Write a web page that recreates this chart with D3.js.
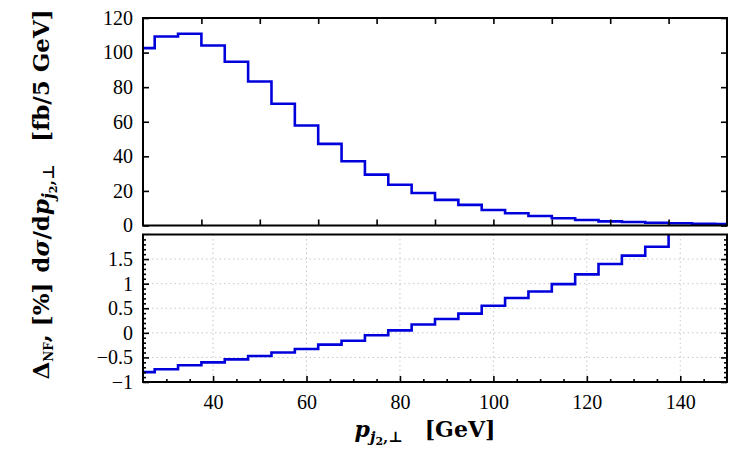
<!DOCTYPE html>
<html>
<head>
<meta charset="utf-8">
<script src="https://cdn.jsdelivr.net/npm/d3@7"></script>
<style>
  body { margin: 0; background: #fff; }
</style>
</head>
<body>
<div id="chart"></div>
<script>
// bin centres, 5 GeV wide
const binCenters = [25, 30, 35, 40, 45, 50, 55, 60, 65, 70, 75, 80, 85, 90, 95,
  100, 105, 110, 115, 120, 125, 130, 135, 140, 145, 150]
// dsigma/dp [fb/5 GeV]
const xsecValues = [102.6, 109.3, 110.9, 104.1, 94.7, 83.3, 70.4, 57.8, 47.2, 37.2, 29.4,
  23.6, 18.8, 14.8, 11.9, 9.0, 7.1, 5.5, 4.2, 3.2, 2.4, 2.0, 1.6, 1.3, 1.0, 0.9]
// Delta_NF [%]
const deltaValues = [-0.80, -0.74, -0.66, -0.60, -0.54, -0.47, -0.40, -0.33, -0.24, -0.16,
  -0.05, 0.05, 0.17, 0.28, 0.39, 0.55, 0.71, 0.84, 0.99, 1.19, 1.40, 1.57, 1.75, 2.1, 2.4, 2.6]
const xTickLabels = [40, 60, 80, 100, 120, 140]
const topTickLabels = [0, 20, 40, 60, 80, 100, 120]
const botTickLabels = [-1, -0.5, 0, 0.5, 1, 1.5]

const W = 750, H = 450
const left = 143, right = 727
const top1 = 18, bot1 = 225.5
const top2 = 234.5, bot2 = 382
const blue = '#0000dd'
const fontSize = 20
const serif = '"Times New Roman", serif'
const titleFont = 'DejaVu Serif'

const svg = d3.select('#chart').append('svg')
  .attr('width', W).attr('height', H)

const x = d3.scaleLinear().domain([25, 150]).range([left, right])
const yTop = d3.scaleLinear().domain([0, 120]).range([bot1, top1])
const yBot = d3.scaleLinear().domain([-1, 2]).range([bot2, top2])

const fmt = d => d < 0 ? '\u2212' + Math.abs(d) : String(d)

function clip (id, y0, y1) {
  svg.append('clipPath').attr('id', id)
    .append('rect').attr('x', left).attr('y', y0)
    .attr('width', right - left).attr('height', y1 - y0)
}
clip('c1', top1, bot1)
clip('c2', top2, bot2)

// grid in lower panel
let grid = svg.append('g').attr('stroke', '#c8c8c8').attr('stroke-width', 1)
  .attr('stroke-dasharray', '1.5,3')
grid.selectAll('line.v').data(xTickLabels).enter().append('line')
  .attr('x1', d => x(d)).attr('x2', d => x(d))
  .attr('y1', top2).attr('y2', bot2)
grid.selectAll('line.h').data(botTickLabels.filter(d => d > -1)).enter().append('line')
  .attr('x1', left).attr('x2', right)
  .attr('y1', d => yBot(d)).attr('y2', d => yBot(d))

// step histograms
function steps (vals, y, clipId) {
  let pts = binCenters.map((c, i) => [c - 2.5, vals[i]])
  pts.push([binCenters[binCenters.length - 1] + 2.5, vals[vals.length - 1]])
  let line = d3.line().x(d => x(d[0])).y(d => y(d[1])).curve(d3.curveStepAfter)
  svg.append('path').datum(pts)
    .attr('clip-path', `url(#${clipId})`)
    .attr('d', line)
    .attr('fill', 'none').attr('stroke', blue).attr('stroke-width', 2.6)
}
steps(xsecValues, yTop, 'c1')
steps(deltaValues, yBot, 'c2')

// tick marks (inward)
function ticks (axis, tr, vals, size) {
  let g = svg.append('g').attr('transform', tr)
    .call(axis.tickValues(vals).tickSize(-size).tickFormat(''))
  g.select('.domain').remove()
  g.selectAll('line').attr('stroke', '#000').attr('stroke-width', 1.6)
}
const topX = d3.range(37.5, 150, 12.5)
ticks(d3.axisBottom(x), `translate(0,${bot1})`, topX, 6)
ticks(d3.axisTop(x), `translate(0,${top1})`, topX, 6)
ticks(d3.axisLeft(yTop), `translate(${left},0)`, topTickLabels, 6)
ticks(d3.axisRight(yTop), `translate(${right},0)`, topTickLabels, 6)

const minorX = d3.range(30, 150, 5).filter(d => d % 20 !== 0)
const minorY = d3.range(-9, 20).map(d => d / 10).filter(d => Math.abs(d * 2 - Math.round(d * 2)) > 1e-6)
ticks(d3.axisBottom(x), `translate(0,${bot2})`, xTickLabels, 6)
ticks(d3.axisBottom(x), `translate(0,${bot2})`, minorX, 3)
ticks(d3.axisLeft(yBot), `translate(${left},0)`, botTickLabels, 6)
ticks(d3.axisLeft(yBot), `translate(${left},0)`, minorY, 3)
ticks(d3.axisRight(yBot), `translate(${right},0)`, botTickLabels, 6)
ticks(d3.axisRight(yBot), `translate(${right},0)`, minorY, 3)

// frames
;[[top1, bot1], [top2, bot2]].forEach(([a, b]) => {
  svg.append('rect').attr('x', left).attr('y', a)
    .attr('width', right - left).attr('height', b - a)
    .attr('fill', 'none').attr('stroke', '#000').attr('stroke-width', 2)
})

// tick labels
function labels (axis, tr, vals) {
  let g = svg.append('g').attr('transform', tr)
    .call(axis.tickValues(vals).tickSize(0).tickPadding(0).tickFormat(fmt))
  g.select('.domain').remove()
  g.attr('font-family', serif).attr('font-size', fontSize)
}
labels(d3.axisLeft(yTop), `translate(${left - 10},0)`, topTickLabels)
labels(d3.axisLeft(yBot), `translate(${left - 10},0)`, botTickLabels)
labels(d3.axisBottom(x), `translate(0,${bot2 + 13})`, xTickLabels)

// x title
let xt = svg.append('text').attr('x', 425).attr('y', 437).attr('font-family', titleFont)
  .attr('text-anchor', 'middle').attr('font-size', 22).attr('font-weight', 'bold')
xt.append('tspan').attr('font-style', 'italic').text('p')
xt.append('tspan').attr('font-size', 15).attr('dy', 5).attr('font-style', 'italic').text('j')
xt.append('tspan').attr('font-size', 11).attr('dy', 3).text('2')
xt.append('tspan').attr('font-size', 15).attr('dy', -3).text(',\u22a5')
xt.append('tspan').attr('dy', -5).text('\u2003[GeV]')

// y titles
let yt = svg.append('text').attr('transform', 'translate(49,141) rotate(-90)').attr('font-family', titleFont)
  .attr('text-anchor', 'middle').attr('font-size', 23).attr('font-weight', 'bold')
yt.append('tspan').text('d')
yt.append('tspan').attr('font-style', 'italic').text('\u03c3')
yt.append('tspan').text('/d')
yt.append('tspan').attr('font-style', 'italic').text('p')
yt.append('tspan').attr('font-size', 16).attr('dy', 5).attr('font-style', 'italic').text('j')
yt.append('tspan').attr('font-size', 11).attr('dy', 3).text('2')
yt.append('tspan').attr('font-size', 16).attr('dy', -3).text(',\u22a5')
yt.append('tspan').attr('dy', -5).text('\u2003[fb/5 GeV]')

let yb = svg.append('text').attr('transform', 'translate(49,331) rotate(-90)').attr('font-family', titleFont)
  .attr('text-anchor', 'middle').attr('font-size', 23).attr('font-weight', 'bold')
yb.append('tspan').text('\u0394')
yb.append('tspan').attr('font-size', 12).attr('dy', 4).text('NF')
yb.append('tspan').attr('dy', -4).text(', [%]')
</script>
</body>
</html>
